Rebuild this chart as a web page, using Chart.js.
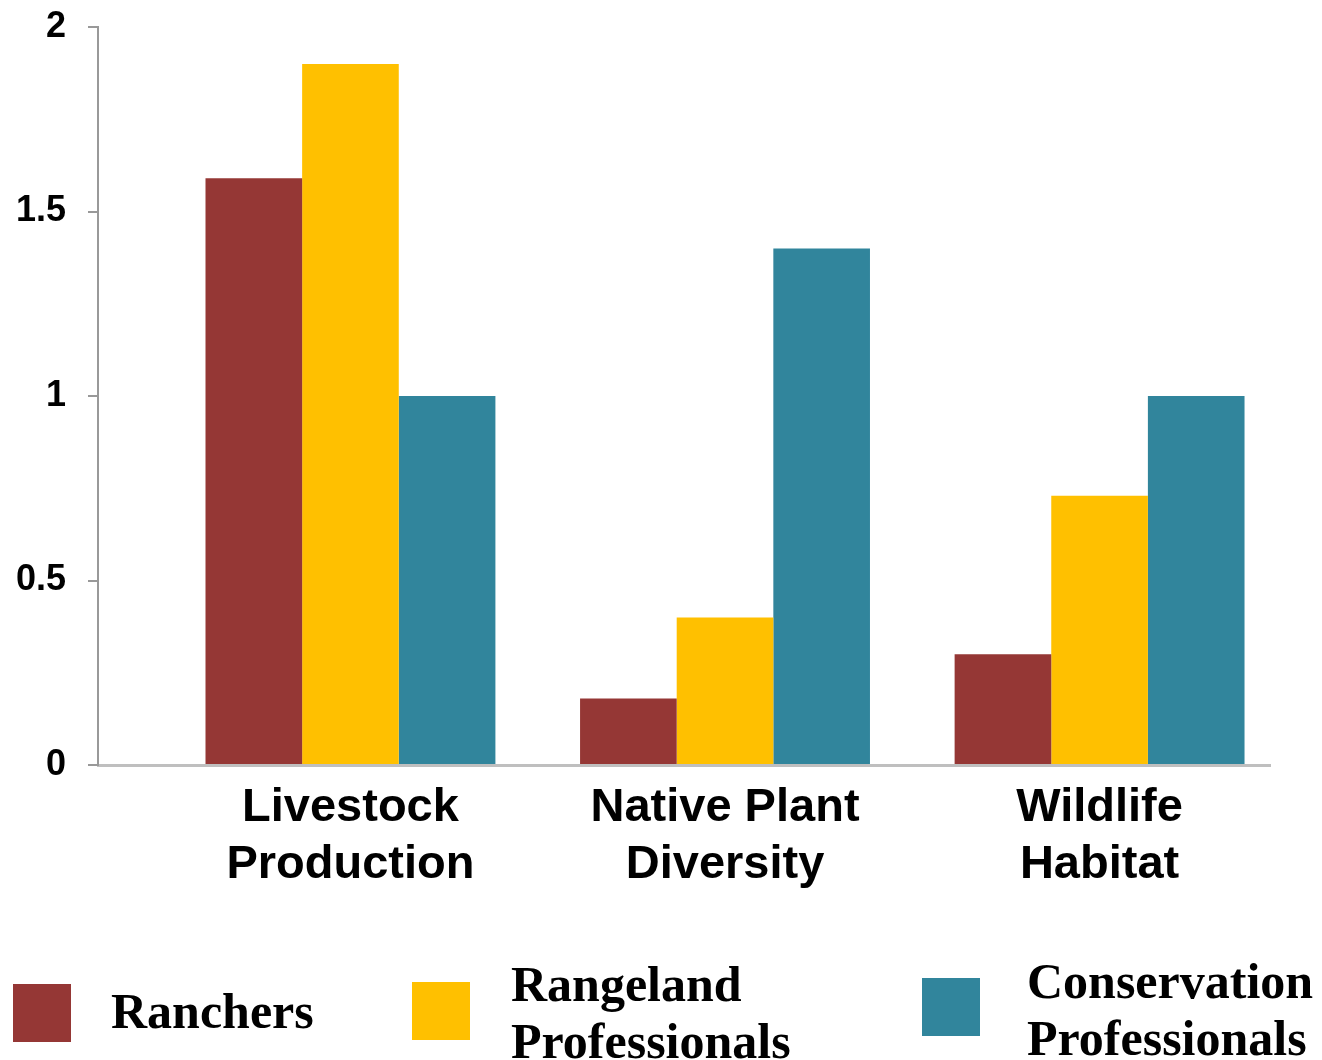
<!DOCTYPE html>
<html>
<head>
<meta charset="utf-8">
<script src="https://cdn.jsdelivr.net/npm/chart.js@4.4.1/dist/chart.umd.min.js"></script>
<style>
  html, body { margin: 0; padding: 0; background: #fff; overflow: hidden; }
  #wrap { position: relative; width: 1322px; height: 1060px; overflow: hidden; }
  #chart { position: absolute; left: 0; top: 0; }
  .lg-box { position: absolute; width: 58px; height: 58px; }
  .lg-text {
    position: absolute; font-family: "Liberation Serif", "Times New Roman", serif;
    font-weight: bold; font-size: 50px; line-height: 57px; color: #000; white-space: nowrap;
  }
</style>
</head>
<body>
<div id="wrap">
  <canvas id="chart" width="1322" height="1060"></canvas>
  <div id="legend"></div>
</div>
<script>
// ── Data ─────────────────────────────────────────────────────────────────────
const categories = [["Livestock", "Production"], ["Native Plant", "Diversity"], ["Wildlife", "Habitat"]];
const seriesNames = [["Ranchers"], ["Rangeland", "Professionals"], ["Conservation", "Professionals"]];
const ranchers     = [1.59, 0.18, 0.30];
const rangeland    = [1.90, 0.40, 0.73];
const conservation = [1.00, 1.40, 1.00];
const yTicks = [0, 0.5, 1, 1.5, 2];
const yTickLabels = ["0", "0.5", "1", "1.5", "2"];

const COLORS = ["#953735", "#FFC000", "#31859C"];

const toPoints = arr => arr.map((v, i) => ({ x: i, y: v }));

const chart = new Chart(document.getElementById("chart"), {
  type: "bar",
  data: {
    datasets: [ranchers, rangeland, conservation].map((vals, i) => ({
      label: seriesNames[i].join(" "),
      data: toPoints(vals),
      backgroundColor: COLORS[i],
      borderWidth: 0,
      categoryPercentage: 0.774,
      barPercentage: 1.0,
    }))
  },
  options: {
    responsive: false,
    animation: false,
    layout: { padding: { top: 27, right: 52, bottom: 155, left: 0 } },
    plugins: { legend: { display: false }, tooltip: { enabled: false } },
    scales: {
      x: {
        type: "linear",
        min: -0.674,
        max: 2.455,
        offset: false,
        afterBuildTicks: s => { s.ticks = categories.map((c, i) => ({ value: i })); },
        afterFit: s => { s.height = 140; s.paddingTop = 0; s.paddingBottom = 0; },
        grid: { display: false },
        border: { display: true, color: "#bfbfbf", width: 3 },
        ticks: {
          color: "#000",
          padding: 7,
          maxRotation: 0,
          autoSkip: false,
          font: { family: "'Liberation Sans', Arial, sans-serif", weight: "bold", size: 47, lineHeight: "57px" },
          callback: v => categories[v],
        },
      },
      y: {
        min: 0,
        max: 2,
        afterBuildTicks: s => { s.ticks = yTicks.map(v => ({ value: v })); },
        afterFit: s => { s.width = 98; s.paddingTop = 0; s.paddingBottom = 0; },
        grid: { drawOnChartArea: false, color: "#999", lineWidth: 2, tickLength: 10 },
        border: { display: true, color: "#999", width: 2 },
        ticks: {
          color: "#000",
          padding: 22,
          font: { family: "'Liberation Sans', Arial, sans-serif", weight: "bold", size: 36 },
          callback: v => yTickLabels[yTicks.indexOf(v)],
        },
      },
    },
  },
});

// ── HTML legend ──────────────────────────────────────────────────────────────
const legendSpots = [
  { box: [13, 984], text: [111, 983] },
  { box: [412, 982], text: [511, 956] },
  { box: [922, 978], text: [1027, 953] },
];
const legend = document.getElementById("legend");
chart.data.datasets.forEach((ds, i) => {
  const b = document.createElement("div");
  b.className = "lg-box";
  b.style.left = legendSpots[i].box[0] + "px";
  b.style.top = legendSpots[i].box[1] + "px";
  b.style.background = ds.backgroundColor;
  legend.appendChild(b);
  const t = document.createElement("div");
  t.className = "lg-text";
  t.style.left = legendSpots[i].text[0] + "px";
  t.style.top = legendSpots[i].text[1] + "px";
  t.innerHTML = seriesNames[i].join("<br>");
  legend.appendChild(t);
});
</script>
</body>
</html>
